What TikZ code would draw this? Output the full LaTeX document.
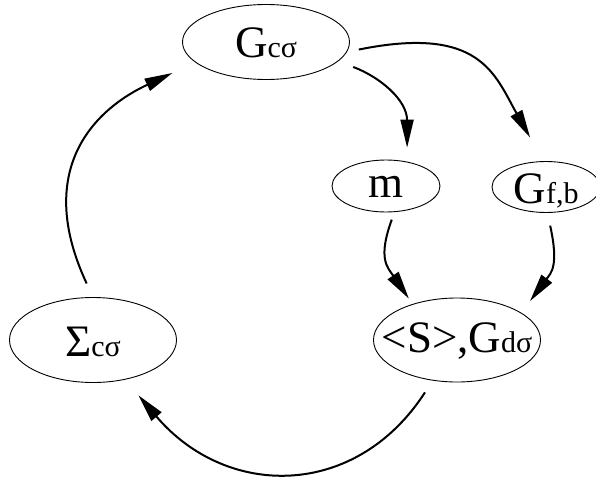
\documentclass[tikz,border=0pt]{standalone}
\usepackage{fontspec}
\setmainfont{Liberation Serif}
\usetikzlibrary{shapes.geometric,arrows.meta}
\newcommand{\lo}[1]{{\fontsize{30}{32}\selectfont #1}}

\begin{document}
\begin{tikzpicture}[x=1pt, y=-1pt,
  state/.style={ellipse, draw, line width=0.9pt, inner sep=0pt, text height=32pt, text depth=0pt,
    font=\fontsize{45}{49}\selectfont},
  arr/.style={-{Triangle[length=28pt, width=13pt]}, line width=2pt}
]
  \useasboundingbox (0,0) rectangle (596,476);

  \node[state, minimum width=167pt, minimum height=75pt] (Gc) at (266,42) {G\lo{cσ}};
  \node[state, minimum width=108pt, minimum height=52pt, text height=22pt] (m) at (386,186) {m};
  \node[state, minimum width=108pt, minimum height=51pt] (Gfb) at (546,187) {G\lo{f,b}};
  \node[state, minimum width=167pt, minimum height=84pt, text height=24pt] (S) at (457,340)
    {\makebox[90pt]{<S>,G\lo{dσ}}};
  \node[state, minimum width=167pt, minimum height=85pt] (Sig) at (93,340) {Σ\lo{cσ}};

  \draw[arr, shorten <=15pt, shorten >=25pt] (Sig.north) .. controls (36,175) and (88,112.6) .. (Gc.196);
  \draw[arr, shorten <=16pt, shorten >=14pt] (Gc.-15) .. controls (380,77) and (407,100) .. (m.49);
  \draw[arr, shorten <=12pt, shorten >=27pt] (Gc.-7) .. controls (480,25) and (494.5,74) .. (Gfb.96);
  \draw[arr, shorten <=8pt, shorten >=6.5pt] (m.-72) .. controls (377.5,258.8) and (387.4,267.2) .. (S.141);
  \draw[arr, shorten <=13pt, shorten >=14.5pt] (Gfb.-87) .. controls (559.1,266.2) and (551,273) .. (S.23);
  \draw[arr, shorten <=14pt, shorten >=20.5pt] (S.239) .. controls (355.7,499.5) and (226.5,499) .. (Sig.-51);
\end{tikzpicture}
\end{document}
